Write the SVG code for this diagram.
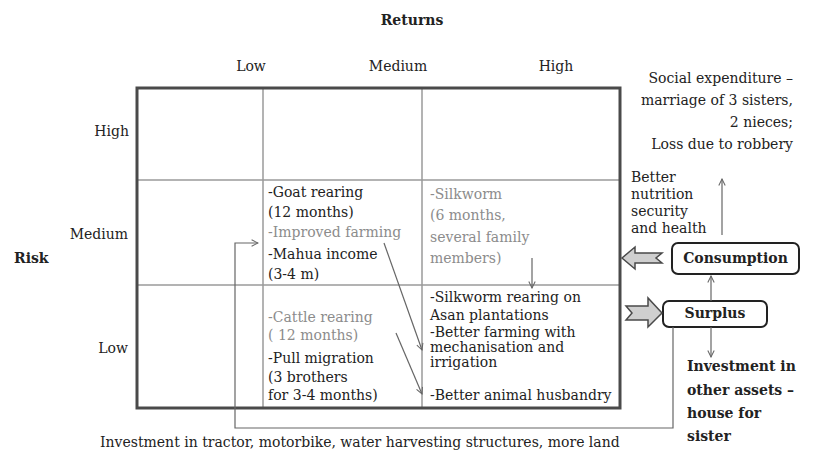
<svg xmlns="http://www.w3.org/2000/svg" width="815" height="452" viewBox="0 0 815 452">
<style>
text{font-family:"DejaVu Serif","Liberation Serif",serif;font-size:14px;fill:#222}
.g{fill:#8c8c8c}
.b{font-weight:bold}
.r{text-anchor:end}
.m{text-anchor:middle}
.grid{stroke:#9a9a9a;stroke-width:1.5;fill:none}
.outer{stroke:#4a4a4a;stroke-width:3;fill:none}
.con{stroke:#666;stroke-width:1.2;fill:none}
.box{fill:#fff;stroke:#222;stroke-width:2}
.blk{fill:#cfcfcf;stroke:#4a4a4a;stroke-width:1.5}
</style>
<defs>
<marker id="ah" viewBox="0 0 10 10" refX="9" refY="5" markerWidth="8" markerHeight="8" orient="auto" markerUnits="userSpaceOnUse">
<path d="M1,1 L9,5 L1,9" fill="none" stroke="#666" stroke-width="1.3"/>
</marker>
</defs>
<rect width="815" height="452" fill="#fff"/>

<g id="title">
<text x="412" y="25" class="b m" font-size="15">Returns</text>
</g>
<g id="col-headers">
<text x="251" y="71" class="m">Low</text>
<text x="398" y="71" class="m">Medium</text>
<text x="556" y="71" class="m">High</text>
</g>
<g id="row-headers">
<text x="129" y="136" class="r">High</text>
<text x="128" y="239" class="r">Medium</text>
<text x="128" y="353" class="r">Low</text>
<text x="14" y="263" class="b" font-size="19">Risk</text>
</g>

<g id="grid">
<line x1="263" y1="88" x2="263" y2="408" class="grid"/>
<line x1="422" y1="88" x2="422" y2="408" class="grid"/>
<line x1="137" y1="180" x2="620" y2="180" class="grid"/>
<line x1="137" y1="285" x2="620" y2="285" class="grid"/>
<rect x="137" y="88" width="483" height="320" class="outer"/>
</g>

<g id="cell-medium-low">
<text x="268" y="197">-Goat rearing</text>
<text x="268" y="217">(12 months)</text>
<text x="268" y="237" class="g">-Improved farming</text>
<text x="268" y="259">-Mahua income</text>
<text x="268" y="279">(3-4 m)</text>
</g>
<g id="cell-medium-high">
<text x="430" y="199" class="g">-Silkworm</text>
<text x="430" y="220" class="g">(6 months,</text>
<text x="430" y="242" class="g">several family</text>
<text x="430" y="263" class="g">members)</text>
</g>
<g id="cell-low-medium">
<text x="268" y="322" class="g">-Cattle rearing</text>
<text x="268" y="340" class="g">( 12 months)</text>
<text x="268" y="363">-Pull migration</text>
<text x="268" y="382">(3 brothers</text>
<text x="268" y="400">for 3-4 months)</text>
</g>
<g id="cell-low-high">
<text x="430" y="302">-Silkworm rearing on</text>
<text x="430" y="320">Asan plantations</text>
<text x="430" y="337">-Better farming with</text>
<text x="430" y="352" font-size="13.5">mechanisation and</text>
<text x="430" y="367" font-size="13.5">irrigation</text>
<text x="430" y="400">-Better animal husbandry</text>
</g>

<g id="social">
<text x="793" y="83" class="r">Social expenditure –</text>
<text x="793" y="105" class="r">marriage of 3 sisters,</text>
<text x="793" y="127" class="r">2 nieces;</text>
<text x="793" y="149" class="r">Loss due to robbery</text>
</g>
<g id="nutrition">
<text x="631" y="182">Better</text>
<text x="631" y="199">nutrition</text>
<text x="631" y="216">security</text>
<text x="631" y="233">and health</text>
</g>
<g id="consumption">
<rect x="672" y="243" width="127" height="31" rx="6" class="box"/>
<text x="735.5" y="263" class="b m" font-size="15">Consumption</text>
</g>
<g id="surplus">
<rect x="663" y="301" width="104" height="26" rx="6" class="box"/>
<text x="715" y="318" class="b m" font-size="15">Surplus</text>
</g>
<g id="investment-assets">
<text x="687" y="371" class="b" font-size="15">Investment in</text>
<text x="687" y="395" class="b" font-size="15">other assets –</text>
<text x="687" y="418" class="b" font-size="15">house for</text>
<text x="687" y="441" class="b" font-size="15">sister</text>
</g>
<g id="investment-bottom">
<text x="100" y="447">Investment in tractor, motorbike, water harvesting structures, more land</text>
</g>

<g id="connectors">
<path d="M673,327 V428 H235 V243 H258" class="con" stroke="#888" marker-end="url(#ah)"/>
<line x1="384" y1="243" x2="422" y2="350" class="con" marker-end="url(#ah)"/>
<line x1="396" y1="333" x2="422" y2="394" class="con" marker-end="url(#ah)"/>
<line x1="532" y1="258" x2="532" y2="288" class="con" marker-end="url(#ah)"/>
<line x1="711" y1="301" x2="711" y2="276" class="con" marker-end="url(#ah)"/>
<line x1="711" y1="327" x2="711" y2="357" class="con" marker-end="url(#ah)"/>
<line x1="722" y1="235" x2="722" y2="179" class="con" stroke="#888" marker-end="url(#ah)"/>
<path d="M622,258 L635,247 L635,253 L662,253 L656,258 L662,263 L635,263 L635,269 Z" class="blk"/>
<path d="M662,313 L648,298 L648,306 L626,306 L632,313 L626,320 L648,320 L648,327 Z" class="blk"/>
</g>
</svg>
